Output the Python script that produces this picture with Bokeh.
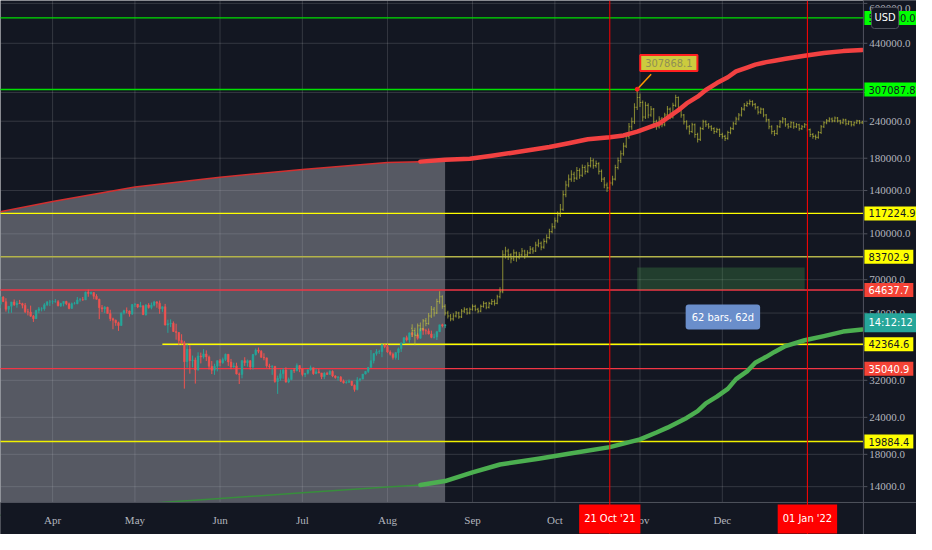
from datetime import datetime, timedelta
import math
from bokeh.plotting import figure
from bokeh.models import Range1d, Span, Label
from bokeh.core.properties import value
from bokeh.embed import file_html
from bokeh.resources import INLINE

# ------------------------------------------------------------------ data
candle_start = "2021-03-13"
candle_first_open = 57800
candle_close = [
    61200, 59000, 55600, 56900, 58900, 57600, 58300, 58100, 57400, 54500, 54400, 52700, 51700, 55100, 55800, 55800, 57600, 58800, 58900,
    59000, 59000, 57100, 58200, 59100, 58000, 56000, 58100, 58100, 59800, 59900, 59800, 63500, 62900, 63300, 61500, 60100, 56300, 55700, 56500,
    53800, 51700, 51100, 50100, 49000, 54000, 55000, 54900, 53600, 57700,
    57800, 56600, 57200, 53300, 57500, 56400, 57400, 58900, 58300, 55800, 56700, 49200, 49700, 49900, 46800, 46400, 43600, 42900, 37000, 40800,
    37300, 37500, 34700, 38700, 38400, 39300, 38400, 35700, 34600, 35700, 37300,
    36700, 37600, 39200, 36900, 35500, 35800, 33600, 33500, 37300, 36700, 37300, 35500, 39100, 40500, 40100, 38300, 38100, 35800, 35600, 35700,
    31700, 32500, 33700, 34700, 31600, 32200, 34700, 34500, 35900, 35000,
    33500, 33800, 34700, 35300, 33700, 34200, 33900, 32900, 33800, 33500, 34300, 33100, 32700, 32800, 31800, 31400, 31500, 31800, 30800, 29800,
    32100, 32300, 33600, 34300, 35400, 37300, 39400, 40000, 40000, 42200, 41600,
    39900, 39200, 38200, 39700, 40900, 42800, 44600, 43800, 46300, 45600, 45600, 44400, 47800, 47100, 47000, 45900, 44700, 44800, 46700, 49300,
    48900, 49300]
candle_high = [
    61700, 61600, 60600, 56900, 58900, 60000, 59400, 59800, 58500, 58400, 55800, 57200, 53200, 55400, 56600, 56500, 58300, 59300, 59800,
    59700, 60200, 59700, 58500, 59200, 59400, 58600, 58600, 58900, 61200, 60700, 61200, 63800, 64800, 63800, 63500, 62500, 60400, 57500, 57000,
    56700, 55400, 52100, 51300, 50500, 54300, 55400, 56400, 55100, 57900,
    58400, 57900, 58900, 57100, 57900, 58300, 58600, 59400, 59200, 59500, 56800, 58000, 51300, 51400, 50600, 49700, 46600, 45800, 43500, 42400,
    42100, 38800, 38200, 39800, 39700, 40800, 40400, 38800, 37200, 36400, 37400,
    37800, 38200, 39400, 39200, 37800, 36700, 36700, 34000, 37500, 38300, 37600, 37400, 39300, 41000, 41300, 40500, 39500, 38200, 36400, 36000,
    35700, 33200, 34800, 35200, 35400, 32700, 34700, 35200, 36500, 36000,
    35000, 33900, 34900, 35900, 35300, 35000, 35000, 33900, 34100, 34200, 34600, 34600, 33300, 33100, 33100, 32200, 31900, 32200, 31800, 31000,
    32800, 32600, 33600, 34400, 35400, 40500, 39500, 40800, 40600, 42300, 42300,
    42500, 40400, 39700, 39900, 41300, 43000, 44700, 45300, 46400, 46600, 46700, 46200, 48100, 48100, 47800, 47900, 47100, 46000, 47000, 49300,
    49700, 49400]
candle_low = [
    56100, 59000, 54600, 53900, 54100, 57100, 56300, 58000, 56000, 54000, 53000, 52500, 50400, 51600, 53900, 54700, 55000, 57000, 57000,
    57900, 58500, 56900, 56600, 56900, 57400, 55600, 55900, 57700, 57800, 59000, 59400, 59800, 61300, 62300, 60100, 60000, 51500, 54400, 54000,
    53800, 50700, 47600, 48900, 47000, 48900, 53400, 53900, 52500, 53200,
    56600, 56100, 56500, 53300, 52900, 55900, 55600, 56900, 56300, 53700, 54500, 49000, 46300, 48400, 46600, 43900, 42200, 42300, 30000, 35300,
    33700, 35400, 31200, 34500, 36500, 37900, 37200, 34800, 33600, 33400, 34300,
    35700, 36400, 37200, 35800, 34900, 35300, 33500, 31100, 32500, 35800, 35600, 34800, 34800, 38800, 39500, 38100, 37400, 35300, 34900, 33400,
    31400, 28800, 31900, 32400, 31400, 31300, 32000, 33900, 34300, 34100,
    33000, 32800, 33500, 34500, 33400, 33600, 33800, 32300, 32300, 33400, 33500, 32800, 32400, 31900, 31600, 31200, 31200, 31400, 30600, 29300,
    29600, 31700, 32300, 33500, 33900, 35300, 36500, 38800, 39300, 38300, 41100,
    39600, 38800, 37600, 37600, 37500, 39900, 42500, 43300, 42900, 44800, 45400, 43900, 44200, 45600, 45700, 45700, 44400, 44300, 43800, 46700,
    48300, 48000]

ghost_start = "2021-08-10"
ghost_first_open = 48000
ghost_close = [
    47100, 45400, 48900, 47800, 50800, 49800, 52800, 55600, 54000, 59100,
    61300, 56900, 54000, 52800, 51600, 52800, 54000, 52400, 54800, 55600,
    54000, 55600, 56900, 55600, 54800, 56900, 58200, 56500, 58200, 59100,
    58200, 61300, 63700, 84900, 87500, 84900, 82400, 86200, 83600, 84900,
    87500, 84900, 86200, 88800, 87500, 91600, 92900, 90200, 94300, 97200,
    101700, 105600, 110600, 115700, 121000, 135600, 146200, 153000, 159000, 154200,
    163700, 157700, 167500, 162500, 170000, 176600, 170000, 172600, 162500, 153000,
    146200, 142900, 148400, 153000, 167500, 176600, 186300, 197800, 213300, 230000,
    238900, 267500, 288500, 277700, 248000, 271600, 251800, 263600, 238900, 230000,
    244300, 233500, 251800, 263600, 248000, 271600, 288500, 267500, 251800, 238900,
    230000, 221500, 233500, 216500, 208500, 226600, 238900, 233500, 230000, 226600,
    221500, 224900, 216500, 213300, 210100, 219800, 226600, 235300, 244300, 251800,
    263600, 271600, 275600, 279800, 273600, 267500, 257600, 263600, 251800, 242500,
    230000, 221500, 218200, 230000, 238900, 244300, 233500, 230000, 237100, 230000,
    233500, 226600, 230000, 233500, 224900, 216500, 213300, 211700, 219800, 230000,
    237100, 240700, 244300, 240700, 246100, 240700, 237100, 242500, 235300, 238900,
    233500, 237100, 240700, 237100, 238900]
ghost_high = [
    49500, 48200, 49800, 50200, 51600, 52000, 54000, 57000, 56600, 60300,
    64000, 62000, 57800, 55000, 53600, 53900, 54900, 54600, 55700, 56500,
    56200, 56400, 57800, 57600, 56300, 57700, 59200, 58800, 59000, 60200,
    60000, 62300, 66000, 88000, 90500, 89000, 86000, 88500, 87200, 86800,
    89500, 88400, 88000, 91000, 90200, 94000, 95800, 94200, 96500, 99500,
    104000, 108500, 113500, 119000, 126000, 140000, 151000, 158500, 164000, 162000,
    168000, 166500, 171500, 170500, 174500, 181500, 179500, 177000, 174500, 165000,
    155500, 149000, 151500, 157000, 171000, 181000, 191000, 203000, 219500, 236500,
    247000, 276000, 307868.1, 298000, 282000, 279000, 276000, 270000, 266000, 243000,
    249500, 248000, 256500, 270000, 267000, 277000, 295000, 291000, 270500, 254000,
    242000, 233000, 237000, 236000, 219500, 230000, 243000, 242000, 236500, 232500,
    229000, 228000, 227000, 219500, 216000, 223000, 230000, 239000, 248500, 256000,
    268000, 276500, 280500, 284000, 282500, 276500, 270000, 267000, 265500, 254000,
    244500, 232500, 224000, 233000, 242500, 248000, 246000, 236500, 240000, 239000,
    236500, 235500, 233000, 236500, 235500, 227000, 219000, 216500, 222500, 233000,
    240000, 244000, 247500, 247000, 249000, 248000, 243000, 245000, 244500, 241500,
    240500, 239500, 243000, 242500, 241000]
ghost_low = [
    44800, 42000, 45000, 46900, 47300, 48700, 49300, 52000, 52600, 53600,
    58000, 55800, 53000, 51800, 50700, 50900, 52200, 51700, 52000, 54000,
    53300, 53500, 55000, 54800, 53900, 54300, 56300, 55600, 55900, 57500,
    57200, 57800, 60500, 63000, 82500, 81500, 79500, 81000, 80500, 82000,
    83800, 82300, 83500, 85500, 85600, 86800, 90000, 88000, 89000, 92800,
    95800, 100500, 104000, 109000, 114000, 119500, 133000, 143500, 150000, 149500,
    152000, 153500, 155500, 158500, 160500, 167500, 166000, 167000, 158500, 149500,
    142500, 138500, 140500, 145500, 151500, 165000, 173500, 183500, 195000, 209500,
    224500, 235000, 262000, 268000, 240000, 244000, 245500, 248500, 232500, 224500,
    227000, 229000, 231000, 248500, 243500, 245000, 268000, 262000, 246500, 234000,
    225000, 216500, 219000, 211000, 203500, 206000, 224000, 229500, 226500, 222500,
    217500, 219000, 212500, 209500, 206000, 208000, 217000, 224000, 233000, 241500,
    249000, 260500, 268000, 272000, 269000, 263000, 253000, 254000, 247500, 238000,
    225500, 217000, 214000, 216000, 227500, 236000, 230000, 226500, 227500, 226500,
    227500, 223000, 224000, 227500, 221500, 212500, 209500, 208000, 209500, 217500,
    227500, 234500, 238000, 237500, 238000, 237500, 234000, 235000, 232000, 233000,
    230500, 231000, 235000, 234500, 235000]

upper_thin_dates = ["2021-03-12", "2021-04-01", "2021-05-01", "2021-06-01", "2021-07-01", "2021-08-01", "2021-08-13"]
upper_thin_vals = [118400, 128600, 144000, 155300, 165000, 174000, 175300]
upper_dates = ["2021-08-13", "2021-08-22", "2021-08-31", "2021-09-08", "2021-09-15", "2021-09-22", "2021-09-29", "2021-10-06",
               "2021-10-13", "2021-10-21", "2021-10-26", "2021-10-31", "2021-11-04", "2021-11-08", "2021-11-11", "2021-11-15",
               "2021-11-18", "2021-11-22", "2021-11-25", "2021-11-29", "2021-12-03", "2021-12-06", "2021-12-10", "2021-12-13",
               "2021-12-17", "2021-12-20", "2021-12-24", "2021-12-31", "2022-01-07", "2022-01-14", "2022-01-21"]
upper_vals = [175300, 178000, 179300, 183400, 187600, 191800, 196300, 202300, 208500, 212000, 214900, 221500, 228300,
              235700, 246200, 261500, 275600, 290600, 306000, 323000, 337900, 353600, 364400, 372800, 380000, 384300,
              390000, 399100, 408000, 414000, 418000]
lower_thin_dates = ["2021-03-12", "2021-05-01", "2021-06-01", "2021-07-01", "2021-08-01", "2021-08-13"]
lower_thin_vals = [11200, 12200, 12760, 13360, 13970, 14190]
lower_dates = ["2021-08-13", "2021-08-22", "2021-09-01", "2021-09-11", "2021-09-25", "2021-10-06", "2021-10-21", "2021-11-01",
               "2021-11-07", "2021-11-11", "2021-11-18", "2021-11-22", "2021-11-25", "2021-11-29", "2021-12-03", "2021-12-06",
               "2021-12-10", "2021-12-13", "2021-12-17", "2021-12-20", "2021-12-24", "2021-12-31", "2022-01-07", "2022-01-14",
               "2022-01-21"]
lower_vals = [14190, 14620, 15650, 16630, 17400, 18070, 19040, 20230, 21330, 22150, 23890, 25190, 26750, 28190, 29950,
              32300, 34320, 36700, 38420, 39910, 41770, 43700, 45130, 46750, 47480]
shade_end = "2021-08-22"

level_prices = [536000.0, 307087.8, 117224.9, 83702.9, 64637.7, 42364.6, 35040.9, 19884.4]
level_start = ["2021-03-01", "2021-03-01", "2021-03-01", "2021-03-01", "2021-03-01", "2021-05-11", "2021-03-01", "2021-03-01"]
level_line_colors = ["#00e000", "#00e000", "#ffff00", "#b4b44a", "#f23645", "#ffff00", "#f23645", "#f0f000"]
level_tag_bg = ["#00ff00", "#00ff00", "#ffff00", "#ffff00", "#f44336", "#ffff00", "#f44336", "#ffff00"]
level_tag_fg = ["#131722", "#131722", "#131722", "#131722", "#ffffff", "#131722", "#ffffff", "#131722"]

marker_dates = ["2021-10-21", "2022-01-01"]
marker_texts = ["21 Oct '21", "01 Jan '22"]

month_ticks = ["2021-04-01", "2021-05-01", "2021-06-01", "2021-07-01", "2021-08-01", "2021-09-01",
               "2021-10-01", "2021-11-01", "2021-12-01", "2022-01-01"]
month_labels = ["Apr", "May", "Jun", "Jul", "Aug", "Sep", "Oct", "Nov", "Dec", "Jan"]
y_ticks = [600000, 440000, 300000, 240000, 180000, 140000, 100000, 70000, 54000, 42000, 32000, 24000, 18000, 14000]

range_from, range_to = "2021-10-31", "2021-12-31"
range_low, range_high = 64637.7, 77000
range_text = "62 bars, 62d"
peak_text = "307868.1"
countdown_text = "14:12:12"
currency_text = "USD"

assert len(candle_close) == len(candle_high) == len(candle_low) == 163
assert len(ghost_close) == len(ghost_high) == len(ghost_low) == 165

# ------------------------------------------------------------------ helpers
FONT_AX = "Liberation Sans Narrow"
FONT_TAG = "DejaVu Sans Condensed"
BG = "#131722"
AXC = "#50535e"
DAY = 86400000.0


def dt(s):
    return datetime.strptime(s, "%Y-%m-%d")


def ms(d):
    if isinstance(d, str):
        d = dt(d)
    return (d - datetime(1970, 1, 1)).total_seconds() * 1000.0


# price pane: 878 x 517 reference px, price scale + time scale around it (932 x 550)
X0 = dt("2021-04-01") - timedelta(days=18.98)
X1 = dt("2022-01-01") + timedelta(days=20.41)
Y0, Y1 = 12380.0, 613700.0
REF_W, REF_H = 878.0, 517.0


def x_at(rx):
    return ms(X0) + (ms(X1) - ms(X0)) * rx / REF_W


def y_at(ry):
    a, b = math.log10(Y1), math.log10(Y0)
    return 10 ** (a - (a - b) * ry / REF_H)


PANE_R, PANE_B = x_at(878), y_at(517)

p = figure(width=916, height=534, x_axis_type="datetime", y_axis_type="log",
           x_axis_location=None, y_axis_location=None,
           x_range=Range1d(x_at(0), x_at(932)), y_range=Range1d(y_at(550), y_at(0)),
           output_backend="svg", toolbar_location=None,
           background_fill_color=BG, border_fill_color=BG, min_border=0)
p.outline_line_color = None
p.xgrid.visible = False
p.ygrid.visible = False

month_ms = [ms(m) for m in month_ticks]
GRID = dict(line_color="#ffffff", line_alpha=0.14, line_width=1)
p.segment(x0=[x_at(0)] * len(y_ticks), x1=[PANE_R] * len(y_ticks), y0=y_ticks, y1=y_ticks, **GRID)
p.segment(x0=month_ms, x1=month_ms, y0=[PANE_B] * len(month_ms), y1=[y_at(0)] * len(month_ms), **GRID)

# shaded history region under the upper band
shade_x = [ms(d) for d in upper_thin_dates] + [ms(d) for d in upper_dates if dt(d) <= dt(shade_end) and d not in upper_thin_dates]
shade_y = upper_thin_vals + [v for d, v in zip(upper_dates, upper_vals) if dt(d) <= dt(shade_end) and d not in upper_thin_dates]
p.varea(x=shade_x, y1=[PANE_B] * len(shade_x), y2=shade_y, fill_color="#b2b5be", fill_alpha=0.42)

# horizontal price levels
p.segment(x0=[ms(s) for s in level_start], y0=level_prices, x1=[PANE_R] * len(level_prices), y1=level_prices,
          line_color=level_line_colors, line_width=1.4)

# green range box
p.quad(left=[ms(range_from)], right=[ms(range_to)], bottom=[range_low], top=[range_high],
       fill_color="#4caf50", fill_alpha=0.26, line_color=None)

# candles
c_x = [ms(candle_start) + i * DAY for i in range(len(candle_close))]
c_open = [candle_first_open] + candle_close[:-1]
c_col = ["#26a69a" if c >= o else "#ef5350" for o, c in zip(c_open, candle_close)]
c_hi = [max(h, o, c) for h, o, c in zip(candle_high, c_open, candle_close)]
c_lo = [min(l, o, c) for l, o, c in zip(candle_low, c_open, candle_close)]
p.segment(x0=c_x, y0=c_lo, x1=c_x, y1=c_hi, line_color=c_col, line_width=1)
p.vbar(x=c_x, width=0.62 * DAY, top=[max(o, c) for o, c in zip(c_open, candle_close)],
       bottom=[min(o, c) for o, c in zip(c_open, candle_close)], fill_color=c_col, line_color=c_col, line_width=0.5)

# projected (ghost) bars
g_x = [ms(ghost_start) + i * DAY for i in range(len(ghost_close))]
g_open = [ghost_first_open] + ghost_close[:-1]
GH = dict(line_color="#c8c83c", line_alpha=0.6, line_width=1.1)
p.segment(x0=g_x, y0=ghost_low, x1=g_x, y1=ghost_high, **GH)
p.segment(x0=[x - 0.4 * DAY for x in g_x], y0=g_open, x1=g_x, y1=g_open, **GH)
p.segment(x0=g_x, y0=ghost_close, x1=[x + 0.4 * DAY for x in g_x], y1=ghost_close, **GH)

# bands
p.line([ms(d) for d in upper_thin_dates], upper_thin_vals, line_color="#d32f2f", line_width=1.5)
p.line([ms(d) for d in lower_thin_dates], lower_thin_vals, line_color="#388e3c", line_width=1.5)
p.line([ms(d) for d in upper_dates], upper_vals, line_color="#f24141", line_width=4.5, line_cap="round", line_join="round")
p.line([ms(d) for d in lower_dates], lower_vals, line_color="#4caf50", line_width=4.5, line_cap="round", line_join="round")

# peak callout pointer
peak_i = ghost_high.index(max(ghost_high))
p.segment(x0=[g_x[peak_i]], y0=[ghost_high[peak_i]], x1=[x_at(662)], y1=[y_at(76)], line_color="#ff9800", line_width=1.5)
p.scatter([g_x[peak_i]], [ghost_high[peak_i]], size=4, color="#ff2020")

# ---- price scale (right) and time scale (bottom) panels
p.quad(left=[PANE_R], right=[x_at(940)], bottom=[y_at(560)], top=[y_at(-10)], fill_color=BG, line_color=None)
p.quad(left=[x_at(-10)], right=[x_at(940)], bottom=[y_at(560)], top=[PANE_B], fill_color=BG, line_color=None)
p.segment(x0=[PANE_R], x1=[PANE_R], y0=[y_at(550)], y1=[y_at(0)], line_color=AXC, line_width=1)
p.segment(x0=[x_at(0)], x1=[x_at(932)], y0=[PANE_B], y1=[PANE_B], line_color=AXC, line_width=1)
p.segment(x0=[PANE_R] * len(y_ticks), x1=[x_at(882)] * len(y_ticks), y0=y_ticks, y1=y_ticks, line_color=AXC, line_width=1)
top_tick = max(y_ticks)
p.text(x=[x_at(884)] * len(y_ticks), y=y_ticks, text=["%.1f" % t for t in y_ticks],
       y_offset=[5 if t == top_tick else 0 for t in y_ticks],
       text_font=value(FONT_AX), text_font_size=value("11px"), text_color="#b2b5be",
       text_align="left", text_baseline="middle")
p.text(x=month_ms, y=[y_at(535)] * len(month_ms), text=month_labels,
       text_font=value(FONT_AX), text_font_size=value("11px"), text_color="#b2b5be",
       text_align="center", text_baseline="middle")

# vertical date markers
for d in marker_dates:
    p.add_layout(Span(location=ms(d), dimension="height", line_color="#ff0000", line_width=1))


def tag(x, y, text, bg, fg, align="left", pad=None, border=None, bw=1, radius=0, size="11px", font=FONT_TAG):
    lab = Label(x=x, y=y, text=text, text_font=font, text_font_size=size, text_color=fg,
                text_align=align, text_baseline="middle",
                background_fill_color=bg, background_fill_alpha=1.0,
                padding=pad if pad is not None else 4, border_radius=radius)
    if border:
        lab.border_line_color = border
        lab.border_line_width = bw
    p.add_layout(lab)


tag(x_at(680), y_at(64.5), peak_text, "#cccb3e", "#8f8e55", align="center",
    pad=dict(left=5, right=5, top=4, bottom=4), border="#ff2020", bw=2)
tag(x_at(735), y_at(326), range_text, "#6a8ecb", "#ffffff", align="center",
    pad=dict(left=6, right=6, top=6, bottom=6), radius=3)

for price, bg, fg in zip(level_prices, level_tag_bg, level_tag_fg):
    tag(x_at(879), price, "%.1f" % price, bg, fg, pad=dict(left=4, right=4, top=3, bottom=3))
tag(x_at(879), y_at(332), countdown_text, "#26a69a", "#ffffff", pad=dict(left=4, right=4, top=3, bottom=3))
tag(x_at(900), y_at(18), currency_text, BG, "#ffffff", align="center",
    pad=dict(left=3, right=3, top=4, bottom=4), border=AXC, radius=3)

for d, t in zip(marker_dates, marker_texts):
    tag(ms(d), y_at(534), t, "#ff0000", "#ffffff", align="center", pad=dict(left=5, right=5, top=8, bottom=8))

open("out.html", "w").write(file_html(p, INLINE))
